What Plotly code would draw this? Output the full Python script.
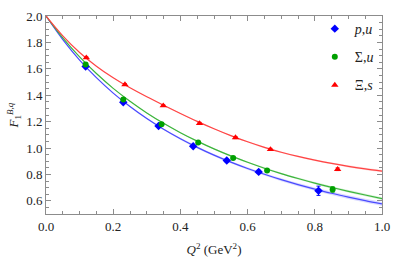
import numpy as np
import plotly.graph_objects as go

# ---- data points (Q^2, F1) ----
p_q2 = [0.118, 0.230, 0.335, 0.438, 0.538, 0.633, 0.811]
p_f1 = [1.617, 1.346, 1.167, 1.014, 0.905, 0.819, 0.676]
p_err = [0.008, 0.008, 0.008, 0.010, 0.010, 0.012, 0.035]

s_q2 = [0.118, 0.230, 0.344, 0.453, 0.557, 0.658, 0.853]
s_f1 = [1.633, 1.367, 1.179, 1.041, 0.924, 0.829, 0.686]
s_err = [0.006, 0.006, 0.008, 0.008, 0.010, 0.010, 0.020]

x_q2 = [0.120, 0.235, 0.349, 0.457, 0.564, 0.668, 0.868]
x_f1 = [1.684, 1.481, 1.321, 1.186, 1.079, 0.989, 0.839]
x_err = [0.006, 0.006, 0.006, 0.008, 0.008, 0.008, 0.010]

# ---- fitted curves ----
curve_q2 = [0.00, 0.05, 0.10, 0.15, 0.20, 0.25, 0.30, 0.35, 0.40, 0.45, 0.50,
            0.55, 0.60, 0.65, 0.70, 0.75, 0.80, 0.85, 0.90, 0.95, 1.00]
p_curve = [2.000, 1.821, 1.666, 1.533, 1.416, 1.314, 1.223, 1.142, 1.070, 1.005, 0.946,
           0.893, 0.845, 0.801, 0.760, 0.723, 0.689, 0.657, 0.628, 0.601, 0.576]
s_curve = [2.000, 1.834, 1.690, 1.564, 1.452, 1.354, 1.266, 1.187, 1.116, 1.052, 0.993,
           0.940, 0.892, 0.847, 0.806, 0.769, 0.734, 0.702, 0.672, 0.644, 0.617]
x_curve = [2.000, 1.850, 1.724, 1.620, 1.532, 1.456, 1.388, 1.324, 1.262, 1.202, 1.146,
           1.094, 1.047, 1.005, 0.968, 0.936, 0.908, 0.883, 0.861, 0.842, 0.825]
p_band = [0.000, 0.001, 0.002, 0.003, 0.004, 0.005, 0.006, 0.006, 0.007, 0.008, 0.008,
          0.009, 0.010, 0.010, 0.011, 0.012, 0.012, 0.013, 0.014, 0.014, 0.015]
s_band = [0.000, 0.001, 0.001, 0.002, 0.002, 0.003, 0.003, 0.004, 0.004, 0.005, 0.005,
          0.006, 0.006, 0.007, 0.007, 0.008, 0.008, 0.009, 0.009, 0.010, 0.010]
x_band = [0.000, 0.001, 0.001, 0.002, 0.002, 0.002, 0.003, 0.003, 0.004, 0.004, 0.004,
          0.005, 0.005, 0.006, 0.006, 0.006, 0.007, 0.007, 0.008, 0.008, 0.008]

x_ticks = [0.0, 0.2, 0.4, 0.6, 0.8, 1.0]
y_ticks = [0.6, 0.8, 1.0, 1.2, 1.4, 1.6, 1.8, 2.0]

series = [
    dict(name="<i>p</i>,<i>u</i>", q=p_q2, f=p_f1, e=p_err, c=p_curve, b=p_band,
         mcol="#0000ff", lcol="#4a4aff", bcol="rgba(90,90,255,0.22)", sym="diamond", ms=6.5),
    dict(name="Σ,<i>u</i>", q=s_q2, f=s_f1, e=s_err, c=s_curve, b=s_band,
         mcol="#00a000", lcol="#3cb43c", bcol="rgba(60,190,60,0.22)", sym="circle", ms=6),
    dict(name="Ξ,<i>s</i>", q=x_q2, f=x_f1, e=x_err, c=x_curve, b=x_band,
         mcol="#ff0000", lcol="#ff4444", bcol="rgba(255,80,80,0.22)", sym="triangle-up", ms=6.5),
]

fig = go.Figure()
cq = np.array(curve_q2)
for s in series:
    c = np.array(s["c"]); b = np.array(s["b"])
    fig.add_trace(go.Scatter(x=cq, y=c + b, mode="lines", line=dict(width=0, shape="spline"),
                             showlegend=False, hoverinfo="skip"))
    fig.add_trace(go.Scatter(x=cq, y=c - b, mode="lines", line=dict(width=0, shape="spline"),
                             fill="tonexty", fillcolor=s["bcol"], showlegend=False, hoverinfo="skip"))
for s in series:
    fig.add_trace(go.Scatter(x=curve_q2, y=s["c"], mode="lines",
                             line=dict(color=s["lcol"], width=1.2, shape="spline"),
                             showlegend=False, hoverinfo="skip"))
for i, s in enumerate(series):
    fig.add_trace(go.Scatter(x=s["q"], y=s["f"], mode="markers", name=s["name"],
                             legendgroup=str(i),
                             marker=dict(color=s["mcol"], symbol=s["sym"], size=s["ms"]),
                             error_y=dict(type="data", array=s["e"], color=s["mcol"],
                                          thickness=1, width=2)))

axis_common = dict(
    showline=True, linecolor="#8c8c8c", linewidth=1, mirror="allticks",
    ticks="inside", ticklen=5, tickcolor="#8c8c8c", tickwidth=1,
    showgrid=False, zeroline=False,
    tickfont=dict(family="Liberation Serif", size=13, color="#222222"),
)
fig.update_xaxes(range=[0, 1], tickvals=x_ticks, tickformat=".1f",
                 minor=dict(dtick=0.05, ticks="inside", ticklen=3, tickcolor="#8c8c8c", showgrid=False),
                 title=dict(text="<i>Q</i><sup>2</sup> (GeV<sup>2</sup>)", standoff=12,
                            font=dict(family="Liberation Serif", size=13, color="#222222")),
                 **axis_common)
fig.update_yaxes(range=[0.5, 2.0], tickvals=y_ticks, tickformat=".1f",
                 minor=dict(dtick=0.05, tick0=0.5, ticks="inside", ticklen=3, tickcolor="#8c8c8c", showgrid=False),
                 title=dict(text="<i>F</i><sub>1</sub><sup><i>B,q</i></sup>", standoff=4,
                            font=dict(family="Liberation Serif", size=13, color="#222222")),
                 **axis_common)

fig.update_layout(
    width=399, height=264,
    margin=dict(l=46, r=9, t=10, b=43),
    plot_bgcolor="white", paper_bgcolor="white",
    legend=dict(x=0.80, y=1.015, xanchor="left", yanchor="top",
                bgcolor="rgba(0,0,0,0)", tracegroupgap=7,
                font=dict(family="Liberation Serif", size=14, color="#222222"),
                itemwidth=30),
)

fig.write_html("out.html", config={"displayModeBar": False},
               post_script="document.body.style.margin='0';document.body.style.overflow='hidden';")
